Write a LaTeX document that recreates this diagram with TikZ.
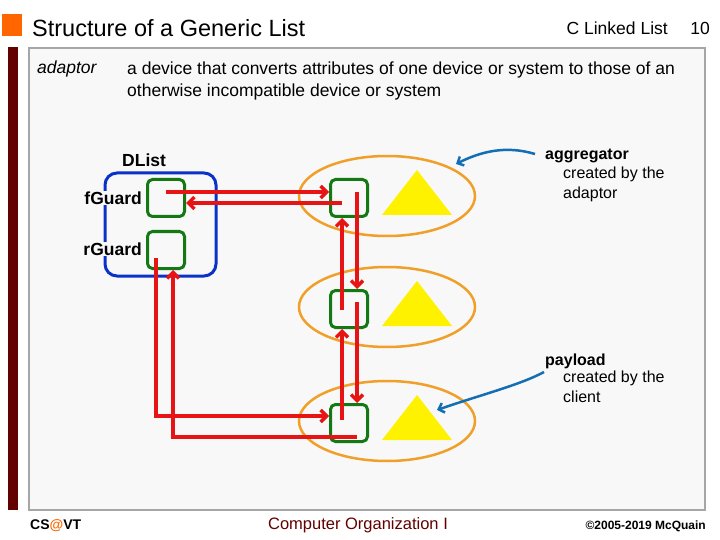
\documentclass[tikz,border=0pt]{standalone}
\usepackage{fontspec}
\setmainfont{Liberation Sans}
\usetikzlibrary{arrows.meta,shapes.geometric}
\definecolor{maroon}{RGB}{99,0,0}
\definecolor{panel}{RGB}{248,248,248}
\definecolor{ringorange}{RGB}{240,160,40}
\definecolor{boxgreen}{RGB}{20,120,20}
\definecolor{linkred}{RGB}{230,20,20}
\definecolor{callblue}{RGB}{20,110,180}
\definecolor{listblue}{RGB}{10,50,200}
\definecolor{titleorange}{RGB}{255,102,0}
\tikzset{
  cell/.style={draw=boxgreen, line width=3pt, rounded corners=5pt, minimum width=37pt, minimum height=37pt, inner sep=0pt},
  ring/.style={draw=ringorange, line width=2.5pt, ellipse, minimum width=176pt, minimum height=80pt},
  link/.style={draw=linkred, line width=3.5pt, -{Straight Barb[length=6pt,width=12pt]}},
  call/.style={draw=callblue, line width=2.5pt, -{Straight Barb[length=5pt,width=10pt]}},
  txt/.style={inner sep=0pt, anchor=west, font=\fontsize{15}{18}\selectfont}
}
\begin{document}
\begin{tikzpicture}[x=1pt, y=-1pt]
  \useasboundingbox (0,0) rectangle (720,540);
  \fill[white] (0,0) rectangle (720,540);

  % frame
  \fill[titleorange] (2,14) rectangle (22,36);
  \draw[gray!70, line width=1.5pt, fill=panel] (29,48) rectangle (705,510);
  \fill[maroon] (8,47) rectangle (18,510);
  \node[txt, font=\fontsize{23.5}{28}\selectfont] (title) at (32,28) {Structure of a Generic List};
  \node[txt, anchor=east, font=\fontsize{17.5}{20}\selectfont] (topic) at (668,28) {C Linked List};
  \node[txt, anchor=east, font=\fontsize{17.5}{20}\selectfont] (page) at (710,28) {10};
  \node[txt, font=\itshape\fontsize{17.5}{20}\selectfont] (term) at (37,69) {adaptor};
  \node[txt, anchor=north west, align=left, font=\fontsize{17.5}{22}\selectfont] (defn) at (127,62)
    {a device that converts attributes of one device or system to those of an\\otherwise incompatible device or system};

  % list header
  \draw[listblue, line width=3pt, rounded corners=12pt] (105,173) rectangle (216,276);
  \node[txt, font=\bfseries\fontsize{17.5}{20}\selectfont] (dlist) at (122,160) {DList};
  \node[cell] (fguard) at (166,198) {};
  \node[cell] (rguard) at (166,250) {};
  \node[txt, anchor=east, fill=panel, inner sep=1pt, font=\bfseries\fontsize{17.5}{20}\selectfont] (flabel) at (143,198) {fGuard};
  \node[txt, anchor=east, fill=panel, inner sep=1pt, font=\bfseries\fontsize{17.5}{20}\selectfont] (rlabel) at (143,249) {rGuard};

  % nodes
  \foreach \n/\y in {one/198, two/309, three/423} {
    \node[ring] (ring\n) at (387,\y-2) {};
    \node[cell] (cell\n) at (349,\y) {};
    \fill[yellow] (382,\y+17) -- (417,\y-28) -- (452,\y+17) -- cycle;
  }

  % links
  \draw[link] ([yshift=6pt]fguard.center) -- ([yshift=6pt]cellone.west);
  \draw[link] ([xshift=-7pt,yshift=-5pt]cellone.center) -- ([yshift=-5pt]fguard.east);
  \draw[link] ([xshift=8pt,yshift=6pt]cellone.center) -- ([xshift=8pt]celltwo.north);
  \draw[link] ([xshift=-7pt,yshift=-1pt]celltwo.center) -- ([xshift=-7pt]cellone.south);
  \draw[link] ([xshift=8pt,yshift=7pt]celltwo.center) -- ([xshift=8pt]cellthree.north);
  \draw[link] ([xshift=-7pt,yshift=3pt]cellthree.center) -- ([xshift=-7pt]celltwo.south);
  \draw[link] ([xshift=-10pt,yshift=-8pt]rguard.center) |- ([yshift=7pt]cellthree.west);
  \draw[link] ([xshift=8pt,yshift=-14pt]cellthree.center) -| ([xshift=7pt]rguard.south);

  % callouts
  \node[txt, font=\bfseries\fontsize{16}{19}\selectfont] (agg) at (545,156) {aggregator};
  \node[txt, anchor=north west, align=left, font=\fontsize{16}{19.5}\selectfont] (aggnote) at (563,167) {created by the\\adaptor};
  \node[txt, font=\bfseries\fontsize{16}{19}\selectfont] (pay) at (545,361) {payload};
  \node[txt, anchor=north west, align=left, font=\fontsize{16}{19.5}\selectfont] (paynote) at (563,371) {created by the\\client};
  \draw[call] ([xshift=-10pt,yshift=2pt]agg.west) .. controls (505,145) and (480,152) .. (456,164);
  \draw[call] ([xshift=-1pt,yshift=-11pt]pay.west) .. controls (520,385) and (480,395) .. (437,410);

  % footer
  \node[txt, font=\bfseries\fontsize{14}{16}\selectfont] (cs) at (30,526) {CS\textcolor{titleorange}{@}VT};
  \node[inner sep=0pt, text=maroon, font=\fontsize{16.5}{19}\selectfont] (course) at (358,525) {Computer Organization I};
  \node[txt, anchor=east, font=\bfseries\fontsize{12}{14}\selectfont] (copy) at (706,526) {©2005-2019 McQuain};
\end{tikzpicture}
\end{document}
